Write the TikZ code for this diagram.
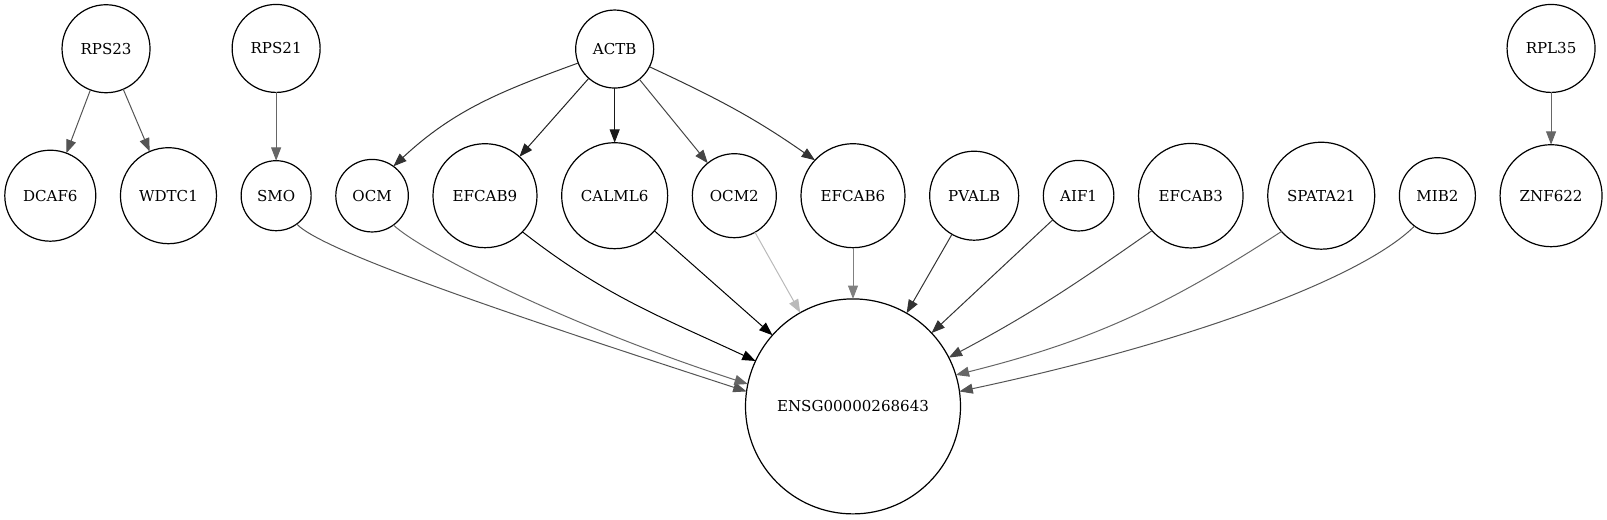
\documentclass[tikz,border=0pt]{standalone}
\usepackage{fontspec}
\setmainfont{DejaVu Serif}
\usetikzlibrary{positioning}
\usetikzlibrary{arrows.meta}

\begin{document}
\begin{tikzpicture}[x=0.75pt, y=-0.75pt, node distance=18.5pt,
	gene/.style={draw, circle, inner sep=0pt, outer sep=0pt, line width=0.9pt, font=\fontsize{11.3}{13}\selectfont},
	>={Triangle[length=10pt, width=7.5pt]},
	every edge/.append style={line width=0.75pt}]
			\useasboundingbox (0,0) rectangle (1607,520);
			\node (dcaf6) [gene, minimum size=68.25pt] at (50.3,195.7) {DCAF6}
			node (wdtc1)   [gene, minimum size=72pt, right=of dcaf6]     {WDTC1}
			node (smo)     [gene, minimum size=52.5pt, right=of wdtc1]   {SMO}
			node (ocm)     [gene, minimum size=54.4pt, right=of smo]     {OCM}
			node (efcab9)  [gene, minimum size=78pt, right=of ocm]       {EFCAB9}
			node (calml6)  [gene, minimum size=79.5pt, right=of efcab9]  {CALML6}
			node (ocm2)    [gene, minimum size=63pt, right=of calml6]    {OCM2}
			node (efcab6)  [gene, minimum size=78pt, right=of ocm2]      {EFCAB6}
			node (pvalb)   [gene, minimum size=66.75pt, right=of efcab6] {PVALB}
			node (aif1)    [gene, minimum size=52.9pt, right=of pvalb]   {AIF1}
			node (efcab3)  [gene, minimum size=78.4pt, right=of aif1]    {EFCAB3}
			node (spata21) [gene, minimum size=80.25pt, right=of efcab3] {SPATA21}
			node (mib2)    [gene, minimum size=57pt, right=of spata21]   {MIB2}
			node (znf622)  [gene, minimum size=76.5pt, right=of mib2]    {ZNF622}
			node (rps23)   [gene, minimum size=66pt, above=43.1pt of dcaf6, xshift=41.8pt] {RPS23}
			node (rps21)   [gene, minimum size=66pt, above=51.2pt of smo]    {RPS21}
			node (actb)    [gene, minimum size=58.5pt, above=41pt of calml6] {ACTB}
			node (rpl35)   [gene, minimum size=66pt, above=39.2pt of znf622] {RPL35}
			node (ensg)    [gene, minimum size=161.25pt, below=38.4pt of efcab6] {ENSG00000268643}
			foreach \A/\B/\C in {rps23/dcaf6/67, rps23/wdtc1/67, rps21/smo/60, actb/efcab9/87,
				actb/calml6/90, actb/ocm2/73, rpl35/znf622/60, calml6/ensg/100,
				ocm2/ensg/27, efcab6/ensg/50, pvalb/ensg/80, aif1/ensg/80}
			{(\A) edge[->, color=black!\C] (\B)};
			% bent edges
			\path (actb.201) edge[->, color=black!80, out=200, in=43] (ocm.54)
			(actb.-27) edge[->, color=black!80, out=-25, in=145] (efcab6.137)
			(smo.-54) edge[->, color=black!67, out=-47, in=162, out looseness=.2, in looseness=1.3] (ensg.172)
			(ocm.-54) edge[->, color=black!60, out=-43, in=162, out looseness=.25, in looseness=1.3] (ensg.168)
			(efcab9.-44) edge[->, color=black, out=-38, in=155] (ensg.155)
			(efcab3.222) edge[->, color=black!73, out=215, in=28] (ensg.27)
			(spata21.222) edge[->, color=black!60, out=213, in=14] (ensg.17)
			(mib2.233) edge[->, color=black!67, out=225, in=12, out looseness=.4, in looseness=1.2] (ensg.8);
\end{tikzpicture}
\end{document}
